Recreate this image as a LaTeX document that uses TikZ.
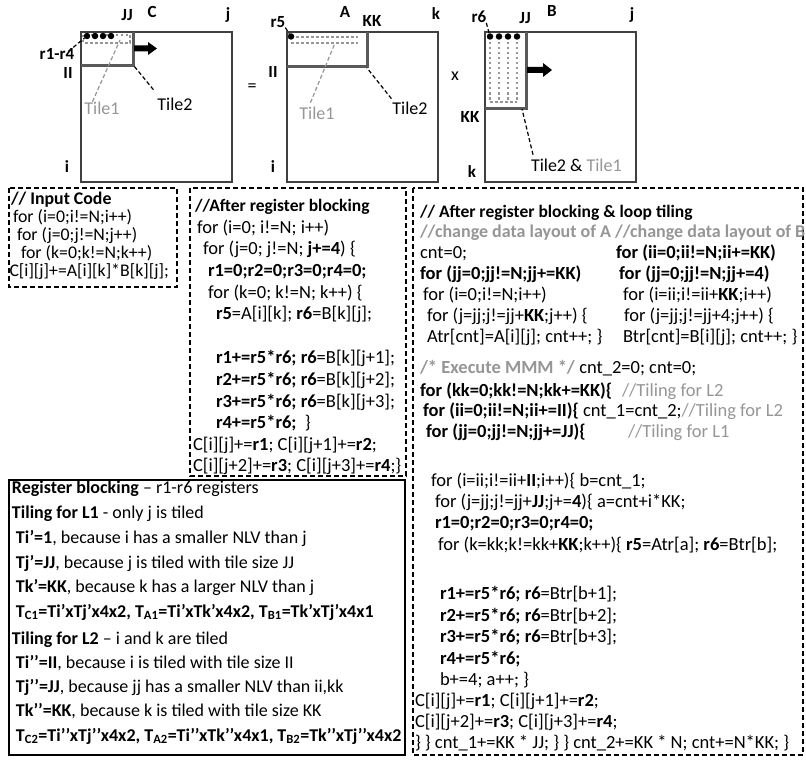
\documentclass[tikz,border=0pt]{standalone}
\usepackage{fontspec}
\setmainfont{Carlito}
\definecolor{lgray}{RGB}{150,150,150}
\definecolor{tgray}{RGB}{90,90,90}
\definecolor{mgray}{RGB}{64,64,64}
\tikzset{
  every node/.style={inner sep=0pt, outer sep=0pt},
  mat/.style={draw=mgray, line width=1.3pt},
  tiletwo/.style={draw=tgray, line width=3pt},
  tileone/.style={draw=lgray, line width=2.5pt, dash pattern=on 2.5pt off 2.5pt},
  rdot/.style={circle, fill=black, minimum size=6.5pt},
  lead/.style={draw=black, line width=1.2pt, dash pattern=on 4pt off 2.5pt},
  leadg/.style={lead, draw=lgray},
  lbl/.style={font=\fontsize{17}{20}\selectfont\bfseries},
  tlbl/.style={font=\fontsize{18}{20}\selectfont},
  cbox/.style={draw=black, line width=1.5pt, dash pattern=on 5pt off 3pt},
  sbox/.style={draw=black, line width=1.8pt},
  ca/.style={anchor=west, font=\fontsize{17.8}{18}\selectfont, text height=12.5pt, text depth=4.5pt},
  cb/.style={anchor=west, font=\fontsize{18.5}{21}\selectfont, text height=13pt, text depth=4.5pt},
  ct/.style={anchor=west, font=\fontsize{17.5}{21}\selectfont\bfseries, text height=12.5pt, text depth=4.5pt},
  cd/.style={anchor=west, font=\fontsize{18}{22}\selectfont, text height=12.5pt, text depth=4pt},
  blockarrow/.style={fill=black},
}
\begin{document}
\begin{tikzpicture}[x=1pt,y=-1pt]
\useasboundingbox (0,0) rectangle (806,760);
\fill[white] (0,0) rectangle (806,760);

% ---------- Matrix C ----------
\draw[mat] (81,32) rectangle (232,182);
\draw[tileone] (83,35) rectangle (130,43);
\draw[tiletwo] (81,65.5) -- (133,65.5) -- (133,32);
\node[rdot] (cd1) at (87,36) {};
\node[rdot] (cd2) at (95,36) {};
\node[rdot] (cd3) at (103,36) {};
\node[rdot] (cd4) at (111,36) {};
\fill[blockarrow] (134,45.5) -- (148,45.5) -- (148,42) -- (157,48.5) -- (148,55) -- (148,51.5) -- (134,51.5) -- cycle;
\node[lbl] (cJJ) at (127,15) {JJ};
\node[lbl] (cC) at (152,12) {C};
\node[lbl] (cj) at (228,15) {j};
\node[lbl] (cr) at (57,54) {r1-r4};
\node[lbl] (cII) at (68,73) {II};
\node[lbl] (ci) at (67,167) {i};
\node[tlbl, text=lgray] (cT1) at (102,108) {Tile1};
\node[tlbl] (cT2) at (175,104) {Tile2};
\coordinate (cT1end) at (120,40);
\coordinate (cT2end) at (134,66);
\draw[lead] (cr.north east) ++(-6,3) -- (cd1);
\draw[leadg] (cT1.north west) ++(8,0) -- (cT1end);
\draw[lead] (cT2.north west) ++(-4,-8) -- (cT2end);

\node[tlbl] (eq) at (252,88) {=};

% ---------- Matrix A ----------
\draw[mat] (287,32) rectangle (438,182);
\draw[tileone] (291,37) -- (358,37);
\draw[tileone] (291,43) -- (358,43);
\draw[tiletwo] (287,67) -- (367,67) -- (367,32);
\node[rdot] (ad1) at (291,36.5) {};
\node[lbl] (ar5) at (278,22) {r5};
\node[lbl] (aA) at (345,12) {A};
\node[lbl] (aKK) at (372,21) {KK};
\node[lbl] (ak) at (436,14) {k};
\node[lbl] (aII) at (273,72) {II};
\node[lbl] (ai) at (273,167) {i};
\node[tlbl, text=lgray] (aT1) at (317,113) {Tile1};
\node[tlbl] (aT2) at (410,108) {Tile2};
\coordinate (aT1end) at (335,43);
\coordinate (aT2end) at (367,68);
\draw[lead] (ar5.south east) -- (ad1);
\draw[leadg] (aT1.north west) ++(11,-4) -- (aT1end);
\draw[lead] (aT2.north west) ++(-1,-3) -- (aT2end);

\node[tlbl] (times) at (455,76) {x};

% ---------- Matrix B ----------
\draw[mat] (485,32) rectangle (636,182);
\foreach \xx in {490,499,508,517} {\draw[tileone] (\xx,37) -- (\xx,102);}
\draw[tileone] (490,102) -- (517,102);
\draw[tiletwo] (485,108) -- (526,108) -- (526,32);
\node[rdot] (bd1) at (490,36.5) {};
\node[rdot] (bd2) at (499,36.5) {};
\node[rdot] (bd3) at (508,36.5) {};
\node[rdot] (bd4) at (517,36.5) {};
\fill[blockarrow] (527,67) -- (543,67) -- (543,63) -- (552,70) -- (543,77) -- (543,73) -- (527,73) -- cycle;
\node[lbl] (br6) at (479,17) {r6};
\node[lbl] (bJJ) at (525,18) {JJ};
\node[lbl] (bB) at (552,11) {B};
\node[lbl] (bj) at (632,15) {j};
\node[lbl] (bKK) at (470,117) {KK};
\node[lbl] (bk) at (472,172) {k};
\node[tlbl, anchor=west] (bT) at (531,165) {Tile2 \& \textcolor{lgray}{Tile1}};
\coordinate (bT2end) at (522,109);
\draw[lead] (br6.south east) -- (bd1);
\draw[lead] (bT.north west) ++(2,-4) -- (bT2end);

% ---------- Box 1: Input code ----------
\draw[cbox] (9,188) rectangle (177,287);
\node[ca] (a0) at (11,200) {\textbf{// Input Code}};
\node[ca] (a1) at (13,218) {for (i=0;i!=N;i++)};
\node[ca] (a2) at (17,236) {for (j=0;j!=N;j++)};
\node[ca] (a3) at (21,254) {for (k=0;k!=N;k++)};
\node[ca] (a4) at (9.5,272) {C[i][j]+=A[i][k]*B[k][j];};

% ---------- Box 2: register blocking ----------
\draw[cbox] (190,188) rectangle (406,476);
\node[ct] (b0) at (195,207) {//After register blocking};
\node[cb] (b1) at (197,229) {for (i=0; i!=N; i++)};
\node[cb] (b2) at (203,250) {for (j=0; j!=N; \textbf{j+=4}) \{};
\node[cb] (b3) at (208,272) {\textbf{r1=0;r2=0;r3=0;r4=0;}};
\node[cb] (b4) at (208,294) {for (k=0; k!=N; k++) \{};
\node[cb] (b5) at (216,315) {\textbf{r5}=A[i][k]; \textbf{r6}=B[k][j];};
\node[cb] (b7) at (216,359) {\textbf{r1+=r5*r6; r6}=B[k][j+1];};
\node[cb] (b8) at (216,381) {\textbf{r2+=r5*r6; r6}=B[k][j+2];};
\node[cb] (b9) at (216,403) {\textbf{r3+=r5*r6; r6}=B[k][j+3];};
\node[cb] (b10) at (216,424) {\textbf{r4+=r5*r6;}\ \ \}};
\node[cb] (b11) at (193,446) {C[i][j]+=\textbf{r1}; C[i][j+1]+=\textbf{r2};};
\node[cb] (b12) at (193,467) {C[i][j+2]+=\textbf{r3}; C[i][j+3]+=\textbf{r4};\}};

% ---------- Box 3: register blocking & loop tiling ----------
\draw[cbox] (413,188) rectangle (803,755);
\node[ct] (c0) at (420,213) {// After register blocking \& loop tiling};
\node[cb, font=\fontsize{18}{21}\selectfont, text=lgray] (c1) at (420,233.5) {\textbf{//change data layout of A //change data layout of B}};
\node[cb] (c2) at (420,254) {cnt=0;};
\node[cb] (c2b) at (616,254) {\textbf{for (ii=0;ii!=N;ii+=KK)}};
\node[cb] (c3) at (420,275.5) {\textbf{for (jj=0;jj!=N;jj+=KK)}};
\node[cb] (c3b) at (619,275.5) {\textbf{for (jj=0;jj!=N;jj+=4)}};
\node[cb] (c4) at (423,296.5) {for (i=0;i!=N;i++)};
\node[cb] (c4b) at (623,296.5) {for (i=ii;i!=ii+\textbf{KK};i++)};
\node[cb] (c5) at (427,317.5) {for (j=jj;j!=jj+\textbf{KK};j++) \{};
\node[cb] (c5b) at (624,317.5) {for (j=jj;j!=jj+4;j++) \{};
\node[cb] (c6) at (427,338.5) {Atr[cnt]=A[i][j]; cnt++; \}};
\node[cb] (c6b) at (623,338.5) {Btr[cnt]=B[i][j]; cnt++; \}};
\node[cb] (c7) at (420,369.5) {\textcolor{lgray}{\textbf{/* Execute MMM */}} cnt\_2=0; cnt=0;};
\node[cb] (c8) at (420,392) {\textbf{for (kk=0;kk!=N;kk+=KK)\{}};
\node[cb, text=lgray] (c8b) at (622,392) {//Tiling for L2};
\node[cb] (c9) at (423,412) {\textbf{for (ii=0;ii!=N;ii+=II)\{} cnt\_1=cnt\_2;\textcolor{lgray}{//Tiling for L2}};
\node[cb] (c10) at (426,433) {\textbf{for (jj=0;jj!=N;jj+=JJ)\{}};
\node[cb, text=lgray] (c10b) at (628,433) {//Tiling for L1};
\node[cb] (c12) at (431,482) {for (i=ii;i!=ii+\textbf{II};i++)\{ b=cnt\_1;};
\node[cb] (c13) at (435,503) {for (j=jj;j!=jj+\textbf{JJ};j+=\textbf{4})\{ a=cnt+i*KK;};
\node[cb] (c14) at (435,524.5) {\textbf{r1=0;r2=0;r3=0;r4=0;}};
\node[cb] (c15) at (438,546) {for (k=kk;k!=kk+\textbf{KK};k++)\{ \textbf{r5}=Atr[a]; \textbf{r6}=Btr[b];};
\node[cb] (c17) at (440,595) {\textbf{r1+=r5*r6; r6}=Btr[b+1];};
\node[cb] (c18) at (440,617.5) {\textbf{r2+=r5*r6; r6}=Btr[b+2];};
\node[cb] (c19) at (440,638.5) {\textbf{r3+=r5*r6; r6}=Btr[b+3];};
\node[cb] (c20) at (440,660) {\textbf{r4+=r5*r6;}};
\node[cb] (c21) at (440,681) {b+=4; a++; \}};
\node[cb] (c22) at (415,702) {C[i][j]+=\textbf{r1}; C[i][j+1]+=\textbf{r2};};
\node[cb] (c23) at (415,723) {C[i][j+2]+=\textbf{r3}; C[i][j+3]+=\textbf{r4};};
\node[cb] (c24) at (415,744) {\} \} cnt\_1+=KK * JJ; \} \} cnt\_2+=KK * N; cnt+=N*KK; \}};

% ---------- Box 4: explanation ----------
\draw[sbox] (9,480) rectangle (405,755);
\node[cd] (d0) at (12,489) {\textbf{Register blocking} – r1-r6 registers};
\node[cd] (d1) at (12,514) {\textbf{Tiling for L1} - only j is tiled};
\node[cd] (d2) at (16,539) {\textbf{Ti’=1}, because i has a smaller NLV than j};
\node[cd] (d3) at (16,564) {\textbf{Tj’=JJ}, because j is tiled with tile size JJ};
\node[cd] (d4) at (16,588) {\textbf{Tk’=KK}, because k has a larger NLV than j};
\node[cd] (d5) at (16,613) {\textbf{T\textsubscript{C1}=Ti’xTj’x4x2, T\textsubscript{A1}=Ti’xTk’x4x2, T\textsubscript{B1}=Tk’xTj’x4x1}};
\node[cd] (d6) at (12,640) {\textbf{Tiling for L2} – i and k are tiled};
\node[cd] (d7) at (16,664) {\textbf{Ti’’=II}, because i is tiled with tile size II};
\node[cd] (d8) at (16,688) {\textbf{Tj’’=JJ}, because jj has a smaller NLV than ii,kk};
\node[cd] (d9) at (16,712) {\textbf{Tk’’=KK}, because k is tiled with tile size KK};
\node[cd] (d10) at (16,737) {\textbf{T\textsubscript{C2}=Ti’’xTj’’x4x2, T\textsubscript{A2}=Ti’’xTk’’x4x1, T\textsubscript{B2}=Tk’’xTj’’x4x2}};
\end{tikzpicture}
\end{document}
